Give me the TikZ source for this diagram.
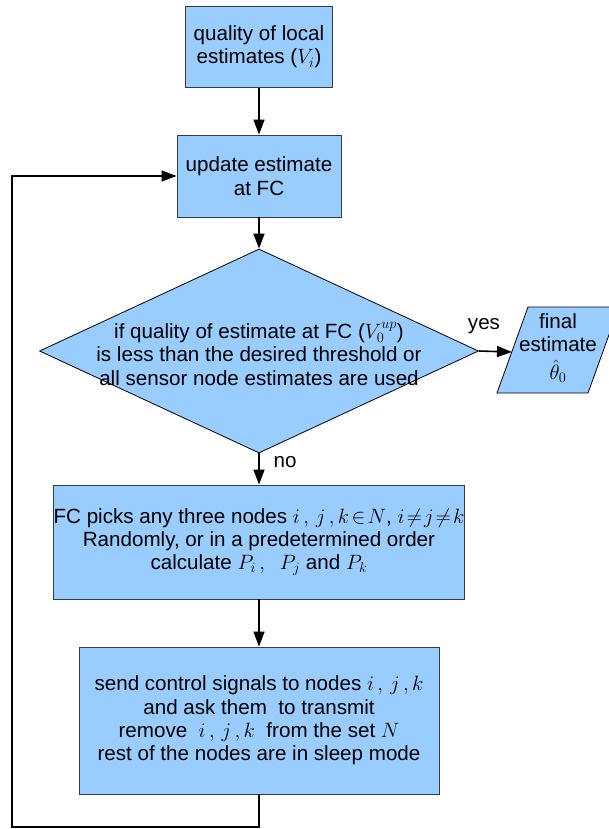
\documentclass[tikz,border=0pt]{standalone}
\usepackage{fontspec}
\setmainfont{Liberation Sans}
\usetikzlibrary{shapes.geometric,arrows.meta}

\definecolor{boxfill}{HTML}{99CCFF}
\definecolor{boxline}{HTML}{333C46}

\tikzset{
  stepbox/.style={rectangle, draw=boxline, fill=boxfill, line width=0.9pt,
    inner sep=0pt, align=center,
    font=\fontsize{20.6}{23.3}\selectfont},
  decbox/.style={diamond, draw=black, fill=boxfill, line width=0.8pt, inner sep=0pt},
  txt/.style={align=center, inner sep=0pt, font=\fontsize{20.6}{23.3}\selectfont},
  conn/.style={draw=black, line width=1.6pt,
    -{Triangle[length=15pt,width=11pt]}}
}

\begin{document}
\begin{tikzpicture}[x=1pt, y=-1pt]
\useasboundingbox (0,0) rectangle (608,829);

% process boxes
\node[stepbox, minimum width=147, minimum height=81] (q) at (259,47)
  {quality of local\\estimates ($V_i$)};
\node[stepbox, minimum width=164, minimum height=82] (u) at (259,176)
  {update estimate\\at FC};

% decision
\node[decbox, minimum width=439, minimum height=204, aspect=2.15] (d) at (259,351) {};
\node[txt] (dt) at (259,354)
  {if quality of estimate at FC ($V_0^{up}$)\\
   is less than the desired threshold or\\
   all sensor node estimates are used};

% output parallelogram
\coordinate (p1) at (528,307);
\coordinate (p2) at (619,307);
\coordinate (p3) at (588,393);
\coordinate (p4) at (497,393);
\filldraw[fill=boxfill, draw=black, line width=0.8pt] (p1) -- (p2) -- (p3) -- (p4) -- cycle;
\node[txt] (f) at (558,348) {final\\estimate\\[5pt]$\hat{\theta}_0$};
\coordinate (fin) at (512,352);

\node[stepbox, minimum width=408, minimum height=114] (pick) at (259,542)
  {FC picks any three nodes $i\,,\,j\,,k\!\in\! N$, $i\!\neq\! j\!\neq\! k$\\
   Randomly, or in a predetermined order\\
   calculate $P_i\,,\;\; P_j$ and $P_k$};
\node[stepbox, minimum width=360, minimum height=147] (send) at (259,720.5)
  {send control signals to nodes $i\,,\,j\,,k$\\
   and ask them\ \ to transmit\\
   remove\ \ $i\,,\,j\,,k$\ \ from the set $N$\\
   rest of the nodes are in sleep mode};

% labels
\node[txt] (yes) at (484,326) {yes};
\node[txt] (no) at (285,462) {no};

% connectors
\draw[conn] (q.south) -- (u.north);
\draw[conn] (u.south) -- (d.north);
\draw[conn] (d.east) -- (fin);
\draw[conn] (d.south) -- (pick.north);
\draw[conn] (pick.south) -- (send.north);

% feedback loop
\coordinate (c1) at (259,827);
\coordinate (c2) at (12,827);
\coordinate (c3) at (12,176);
\draw[conn] (send.south) -- (c1) -- (c2) -- (c3) -- (u.west);
\end{tikzpicture}
\end{document}
